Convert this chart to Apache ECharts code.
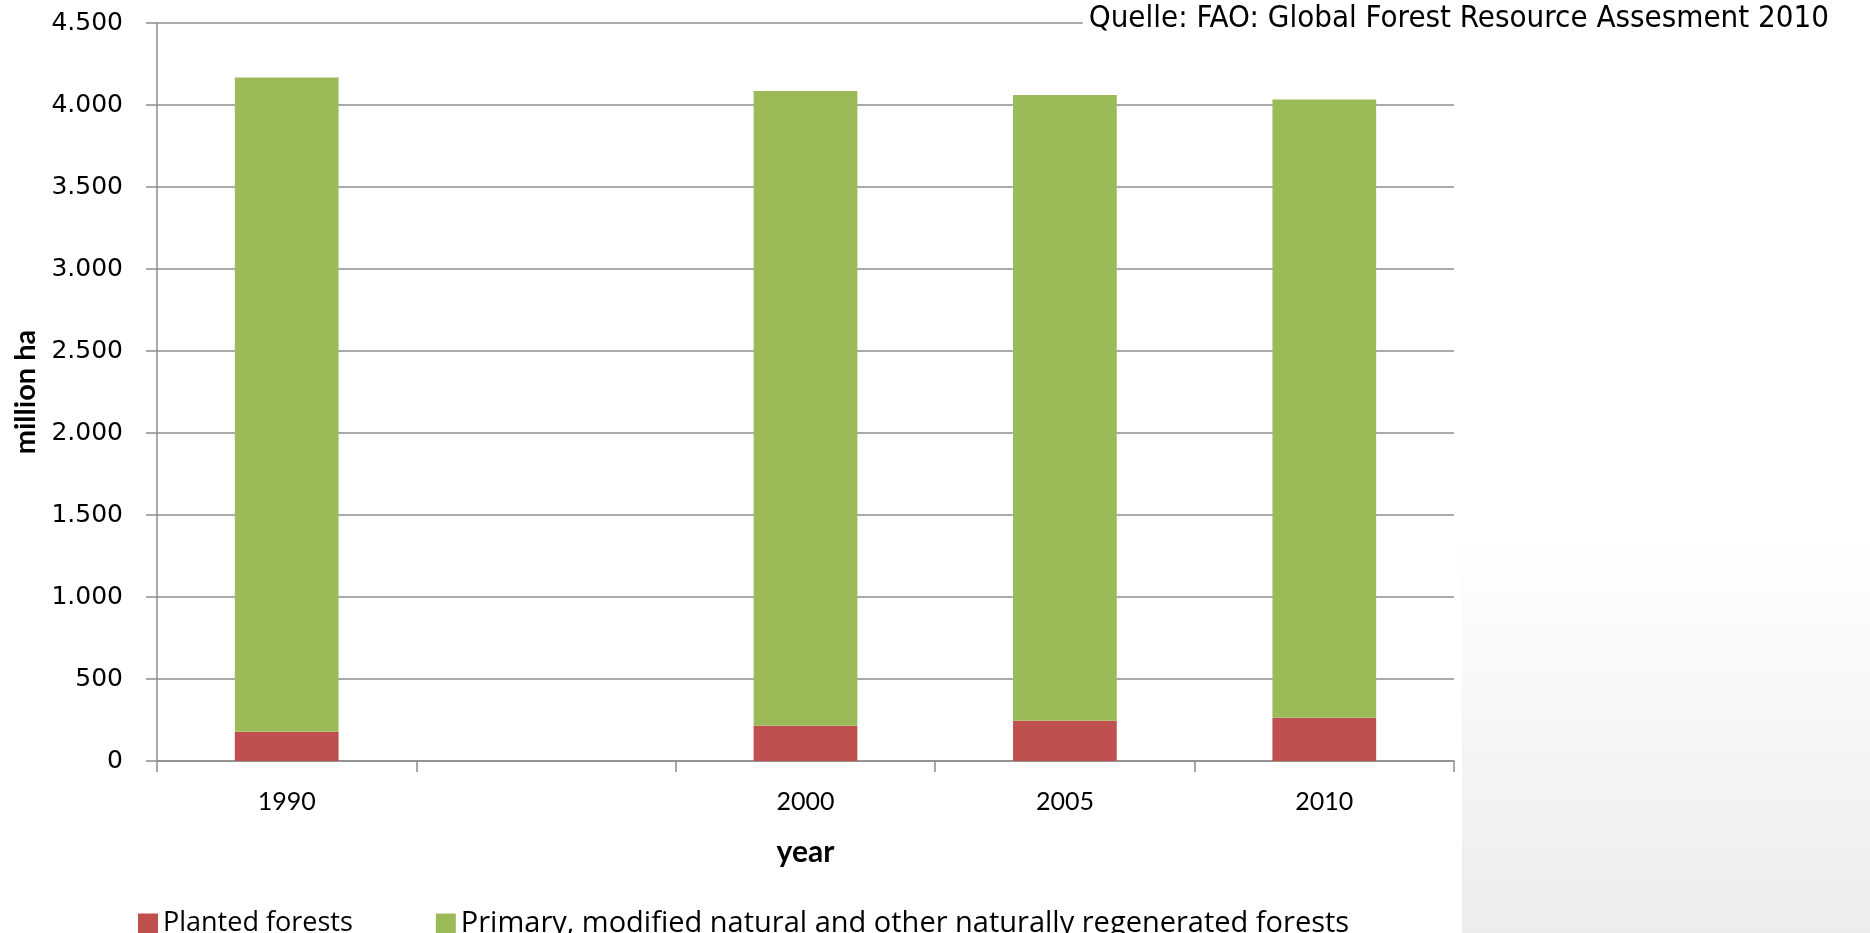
<!DOCTYPE html>
<html><head><meta charset="utf-8">
<script src="https://cdn.jsdelivr.net/npm/echarts@6/dist/echarts.min.js"></script>
<style>html,body{margin:0;padding:0;background:#fff}#c{width:1870px;height:933px}</style>
</head><body><div id="c"></div>
<script>
const categories = ['1990', '', '2000', '2005', '2010'];
const planted = [178, null, 215, 245, 264];
const natural = [3990, null, 3870, 3816, 3769];
const yTicks = { min: 0, max: 4500, interval: 500 };
const seriesNames = ['Planted forests', 'Primary, modified natural and other naturally regenerated forests'];
const sourceText = 'Quelle: FAO: Global Forest Resource Assesment 2010';

const chart = echarts.init(document.getElementById('c'), null, { renderer: 'canvas' });
const fmt = v => String(v).replace(/\B(?=(\d{3})+(?!\d))/g, '.');
const gridColor = '#8c8c8c';
chart.setOption({
  animation: false,
  backgroundColor: '#fff',
  graphic: [{
    type: 'rect', left: 1462, top: 527, z: -10, silent: true,
    shape: { width: 408, height: 406 },
    style: { fill: new echarts.graphic.LinearGradient(0, 0, 0, 1, [
      { offset: 0, color: '#ffffff' }, { offset: 1, color: '#ececec' }]) }
  }],
  title: {
    text: sourceText, right: 37, top: 3,
    backgroundColor: '#fff', padding: [0, 4, 0, 6],
    textStyle: { fontFamily: 'DejaVu Sans Condensed', fontWeight: 'normal', fontSize: 31, color: '#000' }
  },
  legend: {
    left: 133, top: 904, itemWidth: 20, itemHeight: 20, itemGap: 83,
    icon: 'rect',
    textStyle: { fontFamily: 'Open Sans', fontSize: 27, color: '#000' },
    data: [
      { name: seriesNames[0] },
      { name: seriesNames[1], textStyle: { fontFamily: 'Open Sans', fontSize: 29, color: '#000' } }
    ]
  },
  grid: { left: 157, right: 416, top: 23, bottom: 172, containLabel: false },
  xAxis: {
    type: 'category', data: categories,
    name: 'year', nameLocation: 'middle', nameGap: 76,
    nameTextStyle: { fontFamily: 'Lato', fontWeight: 'bold', fontSize: 30, color: '#000' },
    axisLine: { lineStyle: { color: gridColor, width: 1.5 } },
    axisTick: { show: true, length: 11, lineStyle: { color: gridColor, width: 1.5 } },
    axisLabel: { margin: 28, fontFamily: 'Lato', fontSize: 25, color: '#000' }
  },
  yAxis: {
    type: 'value', min: yTicks.min, max: yTicks.max, interval: yTicks.interval,
    name: 'million ha', nameLocation: 'middle', nameGap: 110, nameRotate: 90,
    nameTextStyle: { fontFamily: 'Lato', fontWeight: 'bold', fontSize: 29, color: '#000' },
    axisLine: { show: true, lineStyle: { color: gridColor, width: 1.5 } },
    axisTick: { show: true, length: 11, lineStyle: { color: gridColor, width: 1.5 } },
    splitLine: { lineStyle: { color: gridColor, width: 1.5 } },
    axisLabel: { margin: 34, formatter: fmt, fontFamily: 'DejaVu Sans', fontSize: 25, color: '#000' }
  },
  series: [
    { name: seriesNames[0], type: 'bar', stack: 'a', data: planted, barWidth: '40%',
      itemStyle: { color: '#C0504D' } },
    { name: seriesNames[1], type: 'bar', stack: 'a', data: natural, barWidth: '40%',
      itemStyle: { color: '#9BBB59' } }
  ]
});
</script></body></html>
